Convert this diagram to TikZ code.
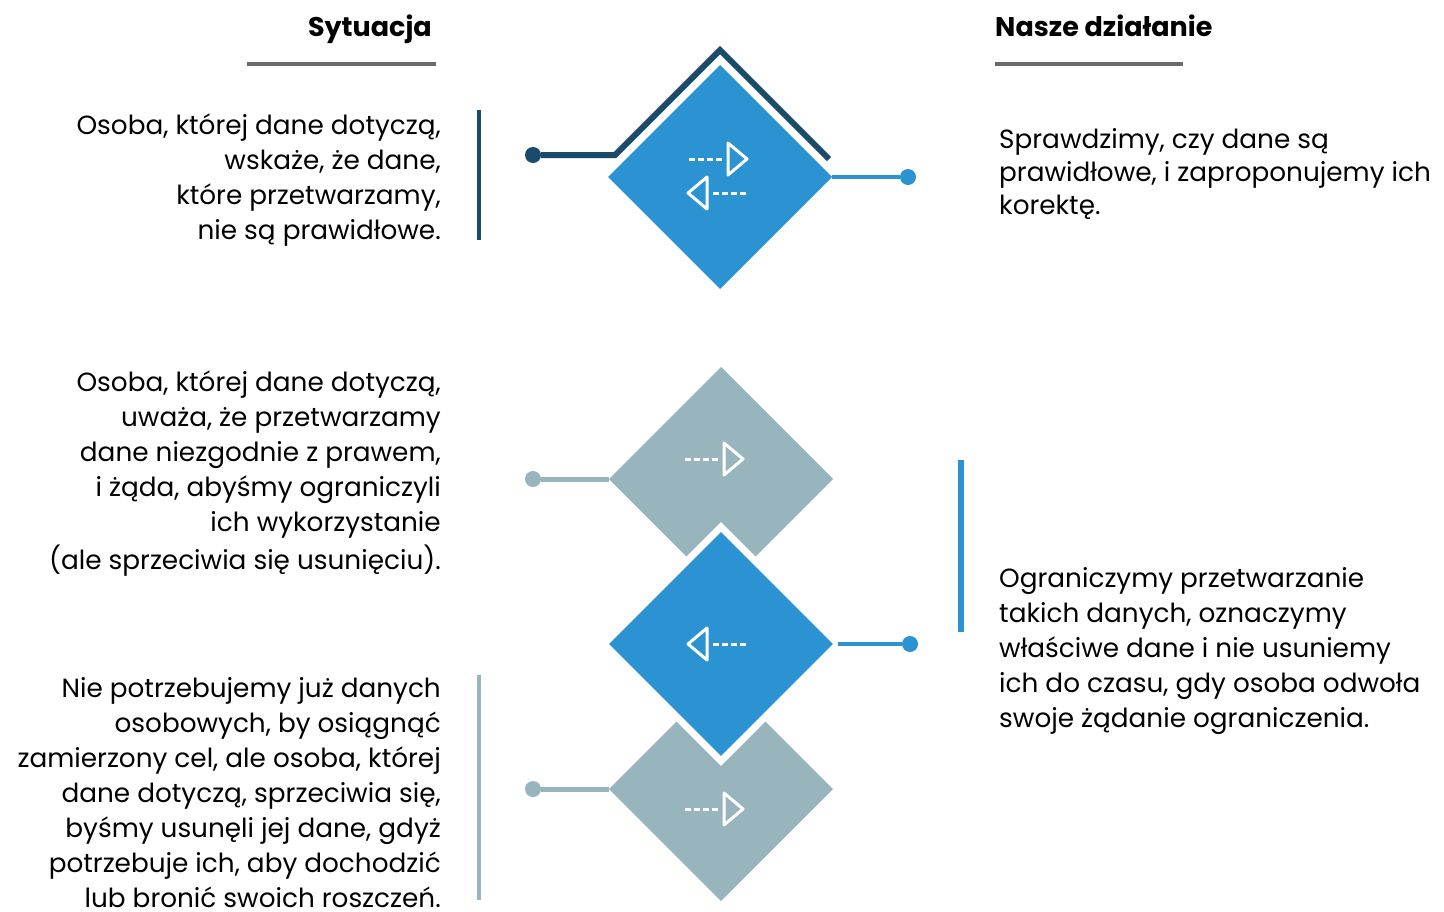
\documentclass[tikz,border=0pt]{standalone}
\usepackage{fontspec}
\setmainfont{Poppins}
\usetikzlibrary{shapes.geometric}

\definecolor{navyline}{HTML}{1B4B6C}
\definecolor{actblue}{HTML}{2C93D3}
\definecolor{slategray}{HTML}{98B5BD}
\definecolor{rulegray}{HTML}{6A6A6A}

\newcommand{\bodysize}{\fontsize{26.3}{35}\selectfont}
\newcommand{\headsize}{\fontsize{27}{32}\selectfont\bfseries}

\tikzset{
  dia/.style={diamond, aspect=1, inner sep=0pt, outer sep=0pt, minimum size=224pt},
  dot/.style={circle, inner sep=0pt, minimum size=16pt},
  lefttext/.style={anchor=base east, align=right, inner sep=0pt, font=\bodysize},
  righttext/.style={anchor=base west, align=left, inner sep=0pt, font=\bodysize},
  head/.style={inner sep=0pt, font=\headsize},
  iconline/.style={white, line width=3pt},
  goright/.pic={
    \draw[iconline, dash pattern=on 6pt off 3pt] (-36,0) -- (-3,0);
    \draw[iconline, line join=round] (3,-16) -- (22,0) -- (3,16) -- cycle;
  },
  goleft/.pic={
    \draw[iconline, dash pattern=on 6pt off 3pt] (36,0) -- (3,0);
    \draw[iconline, line join=round] (-3,-16) -- (-22,0) -- (-3,16) -- cycle;
  }
}

\begin{document}
\begin{tikzpicture}[x=1pt,y=-1pt]
  \useasboundingbox (0,0) rectangle (1444,911);

  % headers
  \node[head, anchor=base east] (hsit) at (432,36) {Sytuacja};
  \node[head, anchor=base west] (hact) at (995,36) {Nasze działanie};
  \draw[rulegray, line width=4pt] (247,64) -- (436,64);
  \draw[rulegray, line width=4pt] (995,64) -- (1183,64);

  % diamonds
  \node[dia, fill=actblue] (d1) at (720,177) {};
  \node[dia, fill=slategray] (d2) at (721,479) {};
  \node[dia, fill=slategray] (d4) at (721,789) {};
  \node[dia, fill=actblue, draw=white, line width=7pt, minimum size=234pt] (d3) at (721,644) {};

  % icons
  \pic at (725,159) {goright};
  \pic at (710,193) {goleft};
  \pic at (721,459) {goright};
  \pic at (710,644) {goleft};
  \pic at (721,809) {goright};

  % connectors
  \node[dot, fill=navyline] (p1) at (533,155) {};
  \coordinate (k1) at (615,155);
  \coordinate (k2) at (720,50);
  \coordinate (k3) at (829,159);
  \draw[navyline, line width=6pt] (p1) -- (k1) -- (k2) -- (k3);
  \node[dot, fill=actblue] (q1) at (908,177) {};
  \draw[actblue, line width=4.5pt] (d1.east) -- (q1);
  \node[dot, fill=slategray] (p2) at (533,479) {};
  \draw[slategray, line width=5pt] (p2) -- (d2.west);
  \node[dot, fill=actblue] (q3) at (910,644) {};
  \draw[actblue, line width=4.5pt] (d3.east) -- (q3);
  \node[dot, fill=slategray] (p4) at (533,789) {};
  \draw[slategray, line width=5pt] (p4) -- (d4.west);

  % side bars
  \draw[navyline, line width=4.5pt] (479,110) -- (479,240);
  \draw[slategray, line width=4.5pt] (479,675) -- (479,900);
  \draw[actblue, line width=5.5pt] (961,460) -- (961,632);

  % texts (anchored at the baseline of the last line)
  \node[lefttext] (s1) at (441,239) {Osoba, której dane dotyczą,\\wskaże, że dane,\\które przetwarzamy,\\nie są prawidłowe.};
  \node[lefttext] (s2) at (441,569) {Osoba, której dane dotyczą,\\uważa, że przetwarzamy\\dane niezgodnie z prawem,\\i żąda, abyśmy ograniczyli\\ich wykorzystanie\\[3pt](ale sprzeciwia się usunięciu).};
  \node[lefttext] (s3) at (441,907) {Nie potrzebujemy już danych\\osobowych, by osiągnąć\\zamierzony cel, ale osoba, której\\dane dotyczą, sprzeciwia się,\\byśmy usunęli jej dane, gdyż\\potrzebuje ich, aby dochodzić\\lub bronić swoich roszczeń.};
  \node[righttext] (a1) at (999,214) {Sprawdzimy, czy dane są\\[-2pt]prawidłowe, i zaproponujemy ich\\[-2pt]korektę.};
  \node[righttext] (a2) at (999,727) {Ograniczymy przetwarzanie\\takich danych, oznaczymy\\właściwe dane i nie usuniemy\\ich do czasu, gdy osoba odwoła\\swoje żądanie ograniczenia.};
\end{tikzpicture}
\end{document}
